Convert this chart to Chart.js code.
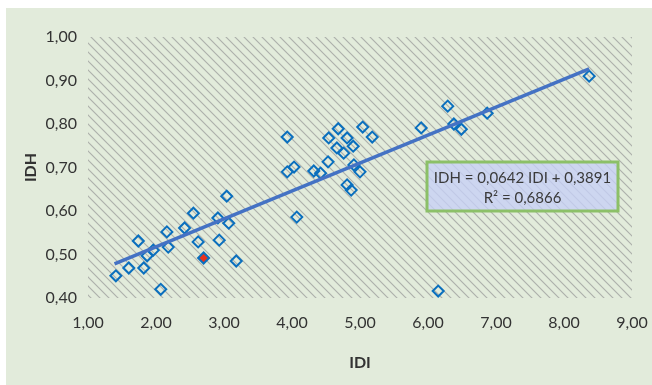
<!DOCTYPE html>
<html>
<head>
<meta charset="utf-8">
<script src="https://cdn.jsdelivr.net/npm/chart.js@4/dist/chart.umd.min.js"></script>
<style>
  html, body { margin: 0; padding: 0; background: #ffffff; }
  #wrap { width: 652px; height: 385px; position: relative; }
</style>
</head>
<body>
<div id="wrap"><canvas id="c" width="652" height="385"></canvas></div>
<script>
// ---- Data ----
const idiValues = [1.41, 1.60, 1.74, 1.82, 1.87, 1.96, 2.07, 2.16, 2.18, 2.42, 2.55, 2.62,
  2.91, 2.93, 3.04, 3.07, 3.18, 3.93, 3.93, 4.03, 4.07, 4.32, 4.42, 4.53, 4.54, 4.66,
  4.68, 4.76, 4.81, 4.81, 4.87, 4.90, 4.91, 5.00, 5.04, 5.18, 5.90, 6.15, 6.29, 6.38,
  6.49, 6.87, 8.37];
const idhValues = [0.451, 0.469, 0.531, 0.469, 0.497, 0.510, 0.420, 0.552, 0.517, 0.561, 0.595, 0.529,
  0.584, 0.533, 0.634, 0.572, 0.485, 0.770, 0.690, 0.701, 0.586, 0.692, 0.687, 0.713, 0.768, 0.745,
  0.789, 0.733, 0.768, 0.660, 0.648, 0.749, 0.706, 0.690, 0.793, 0.770, 0.791, 0.416, 0.841, 0.800,
  0.788, 0.825, 0.910];
const highlightIdi = [2.70];
const highlightIdh = [0.492];
const trendSlope = 0.0642;
const trendIntercept = 0.3891;
const trendRange = [1.39, 8.37];
const equationLines = ["IDH = 0,0642 IDI + 0,3891", "R\u00B2 = 0,6866"];
const xTicks = [1, 2, 3, 4, 5, 6, 7, 8, 9];
const yTicks = [0.4, 0.5, 0.6, 0.7, 0.8, 0.9, 1.0];
const xTitle = "IDI";
const yTitle = "IDH";

const points = idiValues.map((x, i) => ({ x: x, y: idhValues[i] }));
const highlight = highlightIdi.map((x, i) => ({ x: x, y: highlightIdh[i] }));
const trend = trendRange.map(x => ({ x: x, y: trendSlope * x + trendIntercept }));

const fmt = v => v.toFixed(2).replace('.', ',');
const FONT = "Lato, 'Open Sans', sans-serif";

// hatch pattern
function makeHatch() {
  const s = 9;
  const pc = document.createElement('canvas');
  pc.width = s; pc.height = s;
  const p = pc.getContext('2d');
  p.fillStyle = '#e2ebdb';
  p.fillRect(0, 0, s, s);
  p.strokeStyle = 'rgba(150,150,150,0.7)';
  p.lineWidth = 1.1;
  p.beginPath();
  p.moveTo(-1, -1); p.lineTo(s + 1, s + 1);
  p.moveTo(-1 - s, -1); p.lineTo(1, s + 1);
  p.moveTo(s - 1, -1); p.lineTo(2 * s + 1, s + 1);
  p.stroke();
  return p.createPattern(pc, 'repeat');
}

const bgPlugin = {
  id: 'bg',
  beforeDraw(chart) {
    const ctx = chart.ctx;
    ctx.save();
    ctx.fillStyle = '#ffffff';
    ctx.fillRect(0, 0, chart.width, chart.height);
    ctx.fillStyle = '#e2ebdb';
    ctx.fillRect(6, 8, chart.width - 6, chart.height - 8);
    ctx.restore();
  },
  beforeDatasetsDraw(chart) {
    const ctx = chart.ctx, a = chart.chartArea;
    ctx.save();
    ctx.fillStyle = makeHatch();
    ctx.fillRect(a.left, a.top, a.right - a.left, a.bottom - a.top);
    ctx.restore();
  },
  afterDatasetsDraw(chart) {
    const ctx = chart.ctx;
    const bx = 427, by = 162, bw = 191, bh = 49;
    ctx.save();
    ctx.fillStyle = 'rgba(198,208,246,0.78)';
    ctx.fillRect(bx, by, bw, bh);
    ctx.strokeStyle = '#8cc068';
    ctx.lineWidth = 3;
    ctx.strokeRect(bx, by, bw, bh);
    ctx.fillStyle = '#3a3a3a';
    ctx.font = "15px " + FONT;
    ctx.textAlign = 'center';
    ctx.textBaseline = 'middle';
    ctx.fillText(equationLines[0], bx + bw / 2, by + 16);
    ctx.fillText(equationLines[1], bx + bw / 2, by + 36);
    ctx.restore();
  }
};

new Chart(document.getElementById('c'), {
  type: 'scatter',
  data: {
    datasets: [
      {
        type: 'line',
        data: trend,
        borderColor: '#4472c4',
        borderWidth: 3.5,
        pointRadius: 0,
        fill: false,
        order: 0
      },
      {
        data: highlight,
        pointStyle: 'rectRot',
        pointRadius: 5.5,
        pointBorderWidth: 2,
        borderColor: '#0a6fbe',
        backgroundColor: '#e8321e',
        order: 1
      },
      {
        data: points,
        pointStyle: 'rectRot',
        pointRadius: 5.5,
        pointBorderWidth: 2,
        borderColor: '#0a6fbe',
        backgroundColor: 'rgba(0,0,0,0)',
        order: 2
      }
    ]
  },
  options: {
    responsive: false,
    animation: false,
    devicePixelRatio: 1,
    layout: { padding: { left: 0, right: 20, top: 37, bottom: 0 } },
    plugins: { legend: { display: false }, tooltip: { enabled: false } },
    scales: {
      x: {
        type: 'linear',
        min: 1, max: 9,
        afterBuildTicks: s => { s.ticks = xTicks.map(v => ({ value: v })); },
        afterFit: s => { s.height = 87; s.paddingLeft = 0; s.paddingRight = 0; },
        grid: { display: false, drawTicks: false },
        border: { display: false },
        ticks: {
          callback: v => fmt(v),
          color: '#333333',
          font: { family: FONT, size: 16 },
          padding: 15,
          maxRotation: 0,
          autoSkip: false
        },
        title: {
          display: true, text: xTitle, color: '#333333',
          font: { family: FONT, size: 16, weight: 'bold' },
          padding: { top: 13, bottom: 13 }
        }
      },
      y: {
        type: 'linear',
        min: 0.4, max: 1.0,
        afterBuildTicks: s => { s.ticks = yTicks.map(v => ({ value: v })); },
        afterFit: s => { s.width = 88; s.paddingTop = 0; s.paddingBottom = 0; },
        grid: { display: false, drawTicks: false },
        border: { display: false },
        ticks: {
          callback: v => fmt(v),
          color: '#333333',
          font: { family: FONT, size: 16 },
          padding: 11,
          autoSkip: false
        },
        title: {
          display: true, text: yTitle, color: '#333333',
          font: { family: FONT, size: 16, weight: 'bold' },
          padding: { top: 21, bottom: 0 }
        }
      }
    }
  },
  plugins: [bgPlugin]
});
</script>
</body>
</html>
